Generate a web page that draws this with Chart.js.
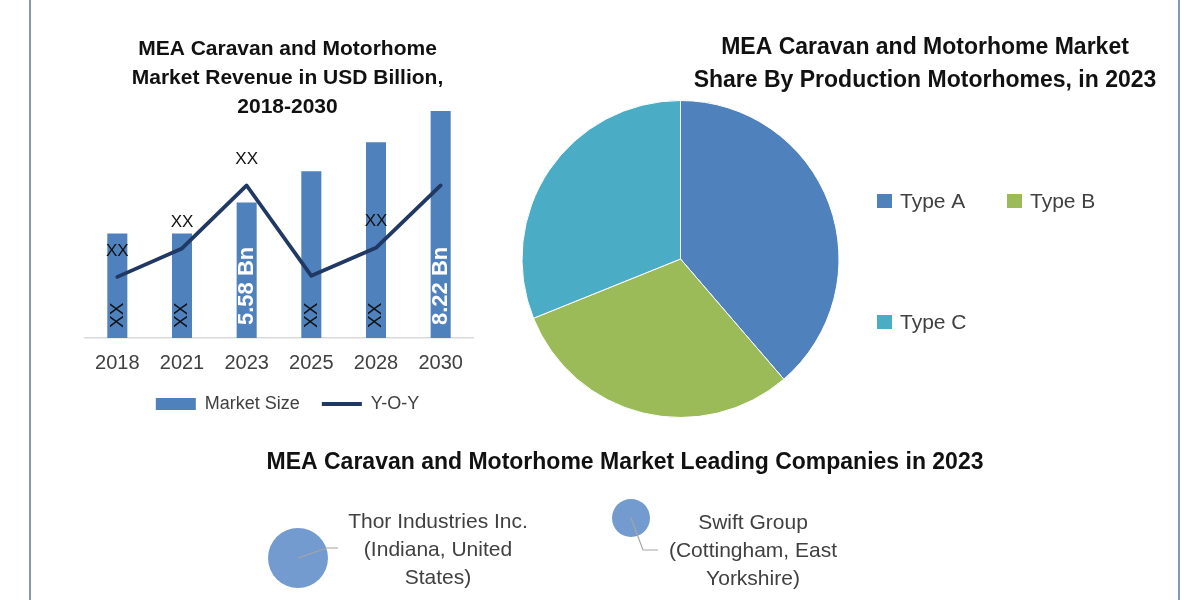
<!DOCTYPE html>
<html><head><meta charset="utf-8">
<script src="https://cdn.jsdelivr.net/npm/chart.js@4.4.0/dist/chart.umd.min.js"></script>
<style>
html,body{margin:0;padding:0;background:#fff;}
#wrap{position:relative;width:1200px;height:600px;overflow:hidden;background:#fff;}
.vline{position:absolute;top:0;width:2px;height:600px;background:#8299b0;}
.box{position:absolute;}
</style></head><body>
<div id="wrap">
  <div class="vline" style="left:29px"></div>
  <div class="vline" style="left:1178px"></div>
  <div class="box" style="left:30px;top:0;width:470px;height:430px"><canvas id="bar"></canvas></div>
  <div class="box" style="left:500px;top:0;width:680px;height:440px"><canvas id="pie"></canvas></div>
  <div class="box" style="left:70px;top:440px;width:1110px;height:160px"><canvas id="bub"></canvas></div>
</div>
<script>
// ---------- data ----------
const years = ['2018','2021','2023','2025','2028','2030'];
const marketSize = [4.68, 4.68, 5.58, 6.48, 7.32, 8.22];
const yoy = [3.43, 4.25, 6.07, 3.46, 4.27, 6.07];
const barLabels = ['XX','XX','5.58 Bn','XX','XX','8.22 Bn'];
const yoyLabels = ['XX','XX','XX','','XX',''];
const barTitle = ['MEA Caravan and Motorhome','Market Revenue in USD Billion,','2018-2030'];

const pieTitle = ['MEA Caravan and Motorhome Market','Share By Production Motorhomes, in 2023'];
const pieLabels = ['Type A','Type B','Type C'];
const pieShares = [38.7, 30.2, 31.1];

const companiesTitle = 'MEA Caravan and Motorhome Market Leading Companies in 2023';
const companyNames = [['Thor Industries Inc.','(Indiana, United','States)'],['Swift Group','(Cottingham, East','Yorkshire)']];
const companyX = [228, 561];
const companyY = [42, 82];
const companySize = [30, 19];

// ---------- styles ----------
const FONT = '"Liberation Sans", Arial, sans-serif';
const BAR_BLUE = '#4F81BD';
const LINE_NAVY = '#1F3864';
const PIE_COLORS = ['#4F81BD','#9BBB59','#4BACC6'];
const Y_MIN = 1.664, Y_MAX = 8.525;

const barLabelPlugin = {
  id: 'barLabels',
  afterDatasetsDraw(chart) {
    const ctx = chart.ctx;
    const bottom = chart.chartArea.bottom;
    const barMeta = chart.getDatasetMeta(0);
    const lineMeta = chart.getDatasetMeta(1);
    barMeta.data.forEach((bar, i) => {
      const txt = barLabels[i]; if (!txt) return;
      const strong = txt !== 'XX';
      ctx.save();
      ctx.translate(bar.x, bottom - (strong ? 13 : 10));
      ctx.rotate(-Math.PI / 2);
      ctx.font = (strong ? 'bold 22px ' : '19px ') + FONT;
      ctx.fillStyle = strong ? '#ffffff' : '#111111';
      ctx.textAlign = 'left'; ctx.textBaseline = 'middle';
      ctx.fillText(txt, 0, 0);
      ctx.restore();
    });
    ctx.save();
    lineMeta.data.forEach((pt, i) => {
      const txt = yoyLabels[i]; if (!txt) return;
      ctx.font = '17px ' + FONT; ctx.fillStyle = '#111111';
      ctx.textAlign = 'center'; ctx.textBaseline = 'middle';
      ctx.fillText(txt, pt.x, pt.y - 26);
    });
    ctx.restore();
  }
};

new Chart(document.getElementById('bar'), {
  data: {
    labels: years,
    datasets: [
      { type: 'bar', label: 'Market Size', data: marketSize, backgroundColor: BAR_BLUE, borderWidth: 0,
        barPercentage: 0.31, categoryPercentage: 1, pointStyle: 'rect', yAxisID: 'y', order: 1 },
      { type: 'line', label: 'Y-O-Y', data: yoy, borderColor: LINE_NAVY, backgroundColor: LINE_NAVY, borderWidth: 3.8,
        pointRadius: 0, tension: 0, borderJoinStyle: 'round', borderCapStyle: 'round', pointStyle: 'line', yAxisID: 'y1', order: 0 }
    ]
  },
  options: {
    responsive: true, maintainAspectRatio: false, animation: false,
    layout: { padding: { left: 45, right: 0, top: 0, bottom: 7 } },
    scales: {
      x: { grid: { display: false, drawTicks: false }, border: { display: true, color: '#d9d9d9', width: 1.5 },
           ticks: { color: '#404040', font: { family: FONT, size: 20 }, padding: 13 } },
      y: { display: true, min: Y_MIN, max: Y_MAX, grid: { display: false, drawTicks: false }, border: { display: false },
           ticks: { display: false }, afterFit: s => { s.width = 10; } },
      y1: { display: true, position: 'right', min: Y_MIN, max: Y_MAX, grid: { display: false, drawTicks: false }, border: { display: false },
           ticks: { display: false }, afterFit: s => { s.width = 27; } }
    },
    plugins: {
      title: { display: true, text: barTitle, color: '#111111',
               font: { family: FONT, size: 21, weight: 'bold', lineHeight: 29/21 },
               padding: { top: 35, bottom: -21.5 } },
      legend: { position: 'bottom',
        labels: { usePointStyle: true, pointStyleWidth: 40, boxHeight: 12, padding: 7, color: '#404040',
                  font: { family: FONT, size: 18 },
                  sort: (a, b) => a.datasetIndex - b.datasetIndex,
                  generateLabels: (chart) => {
                    const items = Chart.defaults.plugins.legend.labels.generateLabels(chart);
                    items.forEach(it => { if (it.datasetIndex === 0) it.text = it.text + '   '; });
                    return items;
                  } } },
      tooltip: { enabled: false }
    }
  },
  plugins: [barLabelPlugin]
});

const pieDecor = {
  id: 'pieDecor',
  afterDraw(chart) {
    const ctx = chart.ctx;
    ctx.save();
    ctx.font = 'bold 23px ' + FONT; ctx.fillStyle = '#111111';
    ctx.textAlign = 'center'; ctx.textBaseline = 'middle';
    pieTitle.forEach((t, i) => ctx.fillText(t, 425, 48 + i * 33));
    const pos = [[377, 201], [507, 201], [377, 322]];
    const ds = chart.data.datasets[0];
    chart.data.labels.forEach((lab, i) => {
      const [x, y] = pos[i];
      ctx.fillStyle = ds.backgroundColor[i];
      ctx.fillRect(x, y - 7, 15, 14);
      ctx.fillStyle = '#404040'; ctx.font = '21px ' + FONT;
      ctx.textAlign = 'left'; ctx.textBaseline = 'middle';
      ctx.fillText(lab, x + 23, y + 1);
    });
    ctx.restore();
  }
};

new Chart(document.getElementById('pie'), {
  type: 'pie',
  data: { labels: pieLabels, datasets: [{ data: pieShares, backgroundColor: PIE_COLORS, borderColor: '#ffffff', borderWidth: 1 }] },
  options: {
    responsive: true, maintainAspectRatio: false, animation: false,
    layout: { padding: { left: 21, right: 340, top: 100, bottom: 22 } },
    plugins: { legend: { display: false }, title: { display: false }, tooltip: { enabled: false } }
  },
  plugins: [pieDecor]
});

const bubbleLabelStyle = [
  { dx: 140, dy: -36, lead: [[29, -10], [40, -10]] },
  { dx: 122, dy: 5, lead: [[12, 32], [27, 32]] }
];
const bubbleDecor = {
  id: 'bubbleDecor',
  afterDatasetsDraw(chart) {
    const ctx = chart.ctx;
    const meta = chart.getDatasetMeta(0);
    ctx.save();
    meta.data.forEach((el, i) => {
      const o = bubbleLabelStyle[i];
      ctx.strokeStyle = '#a6a6a6'; ctx.lineWidth = 1.2;
      ctx.beginPath(); ctx.moveTo(el.x, el.y);
      o.lead.forEach(p => ctx.lineTo(el.x + p[0], el.y + p[1]));
      ctx.stroke();
      ctx.fillStyle = '#404040'; ctx.font = '21px ' + FONT;
      ctx.textAlign = 'center'; ctx.textBaseline = 'middle';
      companyNames[i].forEach((line, j) => ctx.fillText(line, el.x + o.dx, el.y + o.dy + j * 28));
    });
    ctx.restore();
  }
};

new Chart(document.getElementById('bub'), {
  type: 'bubble',
  data: { datasets: [{ label: 'Companies',
    data: companyX.map((x, i) => ({ x: x, y: companyY[i], r: companySize[i] })),
    backgroundColor: '#739bd0', borderWidth: 0 }] },
  options: {
    responsive: true, maintainAspectRatio: false, animation: false,
    layout: { autoPadding: false, padding: 0 },
    scales: { x: { display: false, min: 0, max: 1110 }, y: { display: false, min: 0, max: 123.2 } },
    plugins: {
      legend: { display: false }, tooltip: { enabled: false },
      title: { display: true, text: companiesTitle, color: '#111111',
               font: { family: FONT, size: 23, weight: 'bold', lineHeight: 1.2 }, padding: { top: 9.2, bottom: 0 } }
    }
  },
  plugins: [bubbleDecor]
});
</script>
</body></html>
